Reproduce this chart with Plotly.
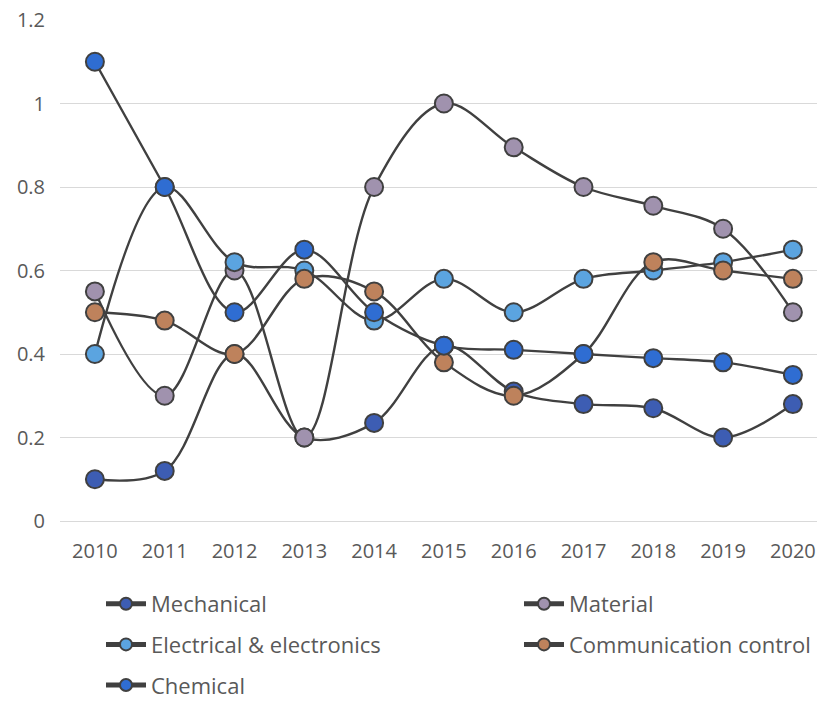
import plotly.graph_objects as go

years = [2010, 2011, 2012, 2013, 2014, 2015, 2016, 2017, 2018, 2019, 2020]
mechanical = [0.10, 0.12, 0.40, 0.20, 0.235, 0.42, 0.31, 0.28, 0.27, 0.20, 0.28]
material = [0.55, 0.30, 0.60, 0.20, 0.80, 1.00, 0.895, 0.80, 0.755, 0.70, 0.50]
electrical = [0.40, 0.80, 0.62, 0.60, 0.48, 0.58, 0.50, 0.58, 0.60, 0.62, 0.65]
communication = [0.50, 0.48, 0.40, 0.58, 0.55, 0.38, 0.30, 0.40, 0.62, 0.60, 0.58]
chemical = [1.10, 0.80, 0.50, 0.65, 0.50, 0.42, 0.41, 0.40, 0.39, 0.38, 0.35]
y_ticks = [0, 0.2, 0.4, 0.6, 0.8, 1.0, 1.2]

series = [
    ("Mechanical", mechanical, "#3D5DB3", "legend", "g1"),
    ("Material", material, "#A092AE", "legend2", "g2"),
    ("Electrical & electronics", electrical, "#5BA4E0", "legend", "g3"),
    ("Communication control", communication, "#BE825C", "legend2", "g4"),
    ("Chemical", chemical, "#2F6DD2", "legend", "g5"),
]

FONT = "Open Sans"
TXT = "#595959"

fig = go.Figure()
for name, vals, col, leg, grp in series:
    fig.add_trace(go.Scatter(
        x=years, y=vals, name=name, mode="lines+markers",
        line=dict(color="#404040", width=2.4, shape="spline", smoothing=1),
        marker=dict(size=18, color=col, line=dict(color="#404040", width=2)),
        legend=leg, legendgroup=grp,
    ))

W, H = 817, 703
ml, mr, mt, mb = 60, 0, 20, 182
pw = W - ml - mr
ph = H - mt - mb

def lx(px):
    return (px - ml) / pw

def ly(py):
    return (H - mb - py) / ph

legend_common = dict(
    orientation="v", xanchor="left", yanchor="top",
    font=dict(family=FONT, size=22, color=TXT),
    bgcolor="rgba(0,0,0,0)", itemsizing="constant", itemwidth=40,
    tracegroupgap=9,
)

fig.update_layout(
    width=W, height=H,
    margin=dict(l=ml, r=mr, t=mt, b=mb, autoexpand=False),
    paper_bgcolor="white", plot_bgcolor="white",
    showlegend=True,
    legend=dict(x=lx(101), y=ly(583), **legend_common),
    legend2=dict(x=lx(519), y=ly(583), **legend_common),
    xaxis=dict(
        range=[2009.5, 2009.5 + pw / 69.8], tickmode="array", tickvals=years,
        ticktext=[str(y) for y in years], showgrid=False, zeroline=False,
        showline=False, ticks="", ticklabelstandoff=16,
        tickfont=dict(family=FONT, size=20, color=TXT),
    ),
    yaxis=dict(
        range=[0, 1.2], tickmode="array", tickvals=y_ticks,
        ticktext=["0", "0.2", "0.4", "0.6", "0.8", "1", "1.2"],
        showgrid=True, gridcolor="#D9D9D9", gridwidth=1.3,
        zeroline=True, zerolinecolor="#D9D9D9", zerolinewidth=1.3,
        showline=False, ticks="", ticklabelstandoff=14,
        tickfont=dict(family=FONT, size=20, color=TXT),
    ),
)

fig.write_html("out.html")
